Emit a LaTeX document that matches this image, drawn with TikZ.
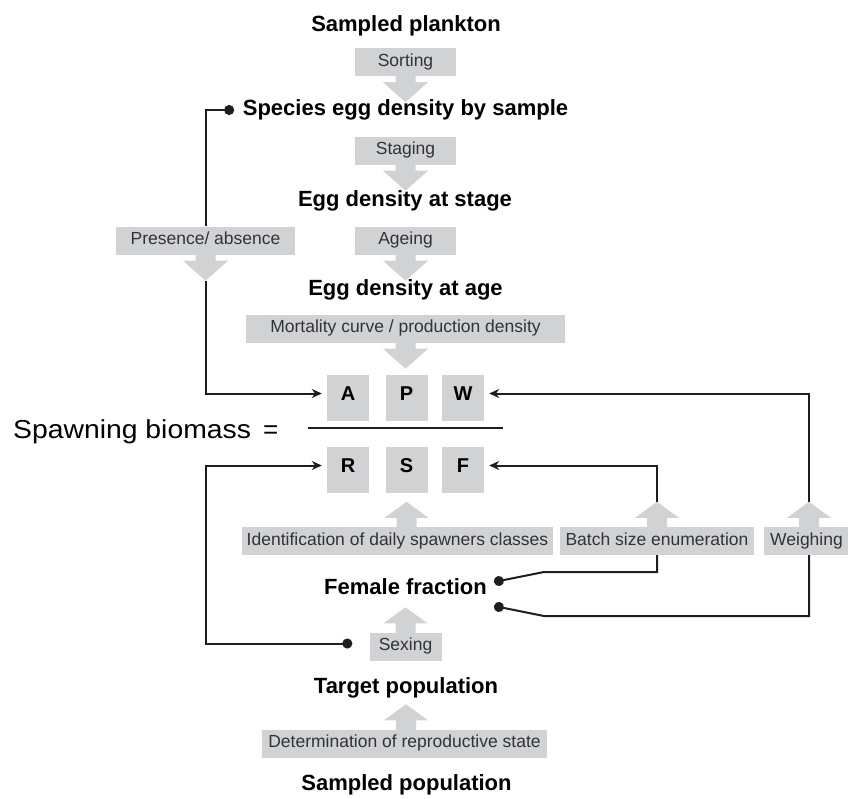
\documentclass[tikz,border=0pt]{standalone}
\usepackage{fontspec}
\usepackage{graphicx}
\setmainfont{Liberation Sans}
\usetikzlibrary{arrows.meta}
\usetikzlibrary{calc}

\definecolor{boxgray}{RGB}{209,210,212}
\definecolor{labeltext}{RGB}{50,50,58}
\definecolor{linecol}{RGB}{30,30,30}

\newcommand{\drawDownArrow}[2]{
	\fill[boxgray] (#1) ++(-10,-1) -- ++(0,7) -- ++(-12.5,0) -- ++(22.5,20) coordinate (#2) -- ++(22.5,-20) -- ++(-12.5,0) -- ++(0,-7) -- cycle;
}
\newcommand{\drawUpArrow}[2]{
	\fill[boxgray] (#1) ++(-10,1) -- ++(0,-10) -- ++(-12,0) -- ++(22,-16) coordinate (#2) -- ++(22,16) -- ++(-12,0) -- ++(0,10) -- cycle;
}

\begin{document}
\begin{tikzpicture}[x=1pt, y=-1pt,
		title/.style={font=\bfseries\fontsize{22}{26}\selectfont, inner sep=0pt, text height=16pt, text depth=4.5pt},
		labelbox/.style={fill=boxgray, text=labeltext, font=\fontsize{17.5}{20}\selectfont, inner sep=0pt, minimum height=28pt, text height=12.5pt, text depth=3.6pt},
		letterbox/.style={fill=boxgray, font=\bfseries\fontsize{20}{24}\selectfont, inner sep=0pt, minimum width=42pt, minimum height=46pt, text depth=8pt},
		arrowline/.style={draw=linecol, line width=2pt, -{Stealth[length=10pt,width=9pt]}, shorten >=5pt},
		dotarrow/.style={draw=linecol, line width=2pt, {Circle[length=10pt]}-{Stealth[length=10pt,width=9pt]}, shorten >=5pt},
		dotline/.style={draw=linecol, line width=2pt, {Circle[length=10pt]}-},
		linedot/.style={draw=linecol, line width=2pt, -{Circle[length=10pt]}}]
		\useasboundingbox (0,0) rectangle (848,798);

		% egg chain
		\node[title] (plankton) at (406,26) {Sampled plankton};
		\node[labelbox, minimum width=101pt] (sorting) at (405.5,62) {Sorting};
		\node[title] (eggsample) at (405.5,110) {Species egg density by sample};
		\node[labelbox, minimum width=101pt] (staging) at (405.5,150.5) {Staging};
		\node[title] (eggstage) at (405,201) {Egg density at stage};
		\node[labelbox, minimum width=179pt] (presence) at (205.5,240.5) {Presence/ absence};
		\node[labelbox, minimum width=101pt] (ageing) at (405.5,240.5) {Ageing};
		\node[title] (eggage) at (405.5,290) {Egg density at age};
		\node[labelbox, minimum width=319pt] (mortality) at (405.5,328.5) {Mortality curve / production density};

		% the fraction
		\node[anchor=west, inner sep=0pt, font=\fontsize{26}{30}\selectfont] (spawn) at (13,432) {\scalebox{1.09}[1]{Spawning biomass}\hspace{12pt}=};
		\node[letterbox] (A) at (348,397.5) {A};
		\node[letterbox] (P) at (406.5,397.5) {P};
		\node[letterbox] (W) at (463,397.5) {W};
		\node[letterbox] (R) at (348,469.5) {R};
		\node[letterbox] (S) at (406.5,469.5) {S};
		\node[letterbox] (F) at (463,469.5) {F};
		\coordinate (fracL) at (308,428);
		\coordinate (fracR) at (503,428);
		\draw[draw=linecol, line width=1.6pt] (fracL) -- (fracR);
		\coordinate (Ain) at ([yshift=4pt]A.west);
		\coordinate (Win) at ([yshift=4pt]W.east);
		\coordinate (Rin) at ([yshift=4pt]R.west);
		\coordinate (Fin) at ([yshift=4pt]F.east);

		% adult chain
		\node[labelbox, minimum width=311pt] (ident) at (397.5,541) {Identification of daily spawners classes};
		\node[labelbox, minimum width=194pt] (batch) at (657,541) {Batch size enumeration};
		\node[labelbox, minimum width=85pt] (weigh) at (806.5,541) {Weighing};
		\node[title] (female) at (405.5,589) {Female fraction};
		\node[labelbox, minimum width=72pt] (sexing) at (405.5,646.5) {Sexing};
		\node[title] (target) at (406,688) {Target population};
		\node[labelbox, minimum width=285pt] (determ) at (404.5,743.5) {Determination of reproductive state};
		\node[title] (sampledpop) at (406.5,785) {Sampled population};

		\drawDownArrow{sorting.south}{sortingtip}
		\drawDownArrow{staging.south}{stagingtip}
		\drawDownArrow{presence.south}{presencetip}
		\drawDownArrow{ageing.south}{ageingtip}
		\drawDownArrow{mortality.south}{mortalitytip}
		\drawUpArrow{ident.north -| S}{identtip}
		\drawUpArrow{batch.north}{batchtip}
		\drawUpArrow{[xshift=2.5pt]weigh.north}{weightip}
		\drawUpArrow{sexing.north}{sexingtip}
		\drawUpArrow{determ.north -| target}{determtip}

		% connectors
		\draw[dotline] ([xshift=-8.5pt]eggsample.west) -| (presence.north);
		\draw[arrowline] (presencetip) |- (Ain);
		\draw[dotarrow] ([xshift=-17pt,yshift=3pt]sexing.west) -| (presencetip |- Rin) -- (Rin);
		\draw[arrowline] (batchtip) |- (Fin);
		\draw[arrowline] (weightip) |- (Win);
		\draw[linedot] (batch.south) |- ($(female.east)+(57,-17)$) -- ($(female.east)+(7,-7)$);
		\draw[linedot] (weigh.south -| weightip) |- ($(female.east)+(57,27)$) -- ($(female.east)+(7,17)$);

	\end{tikzpicture}
\end{document}
